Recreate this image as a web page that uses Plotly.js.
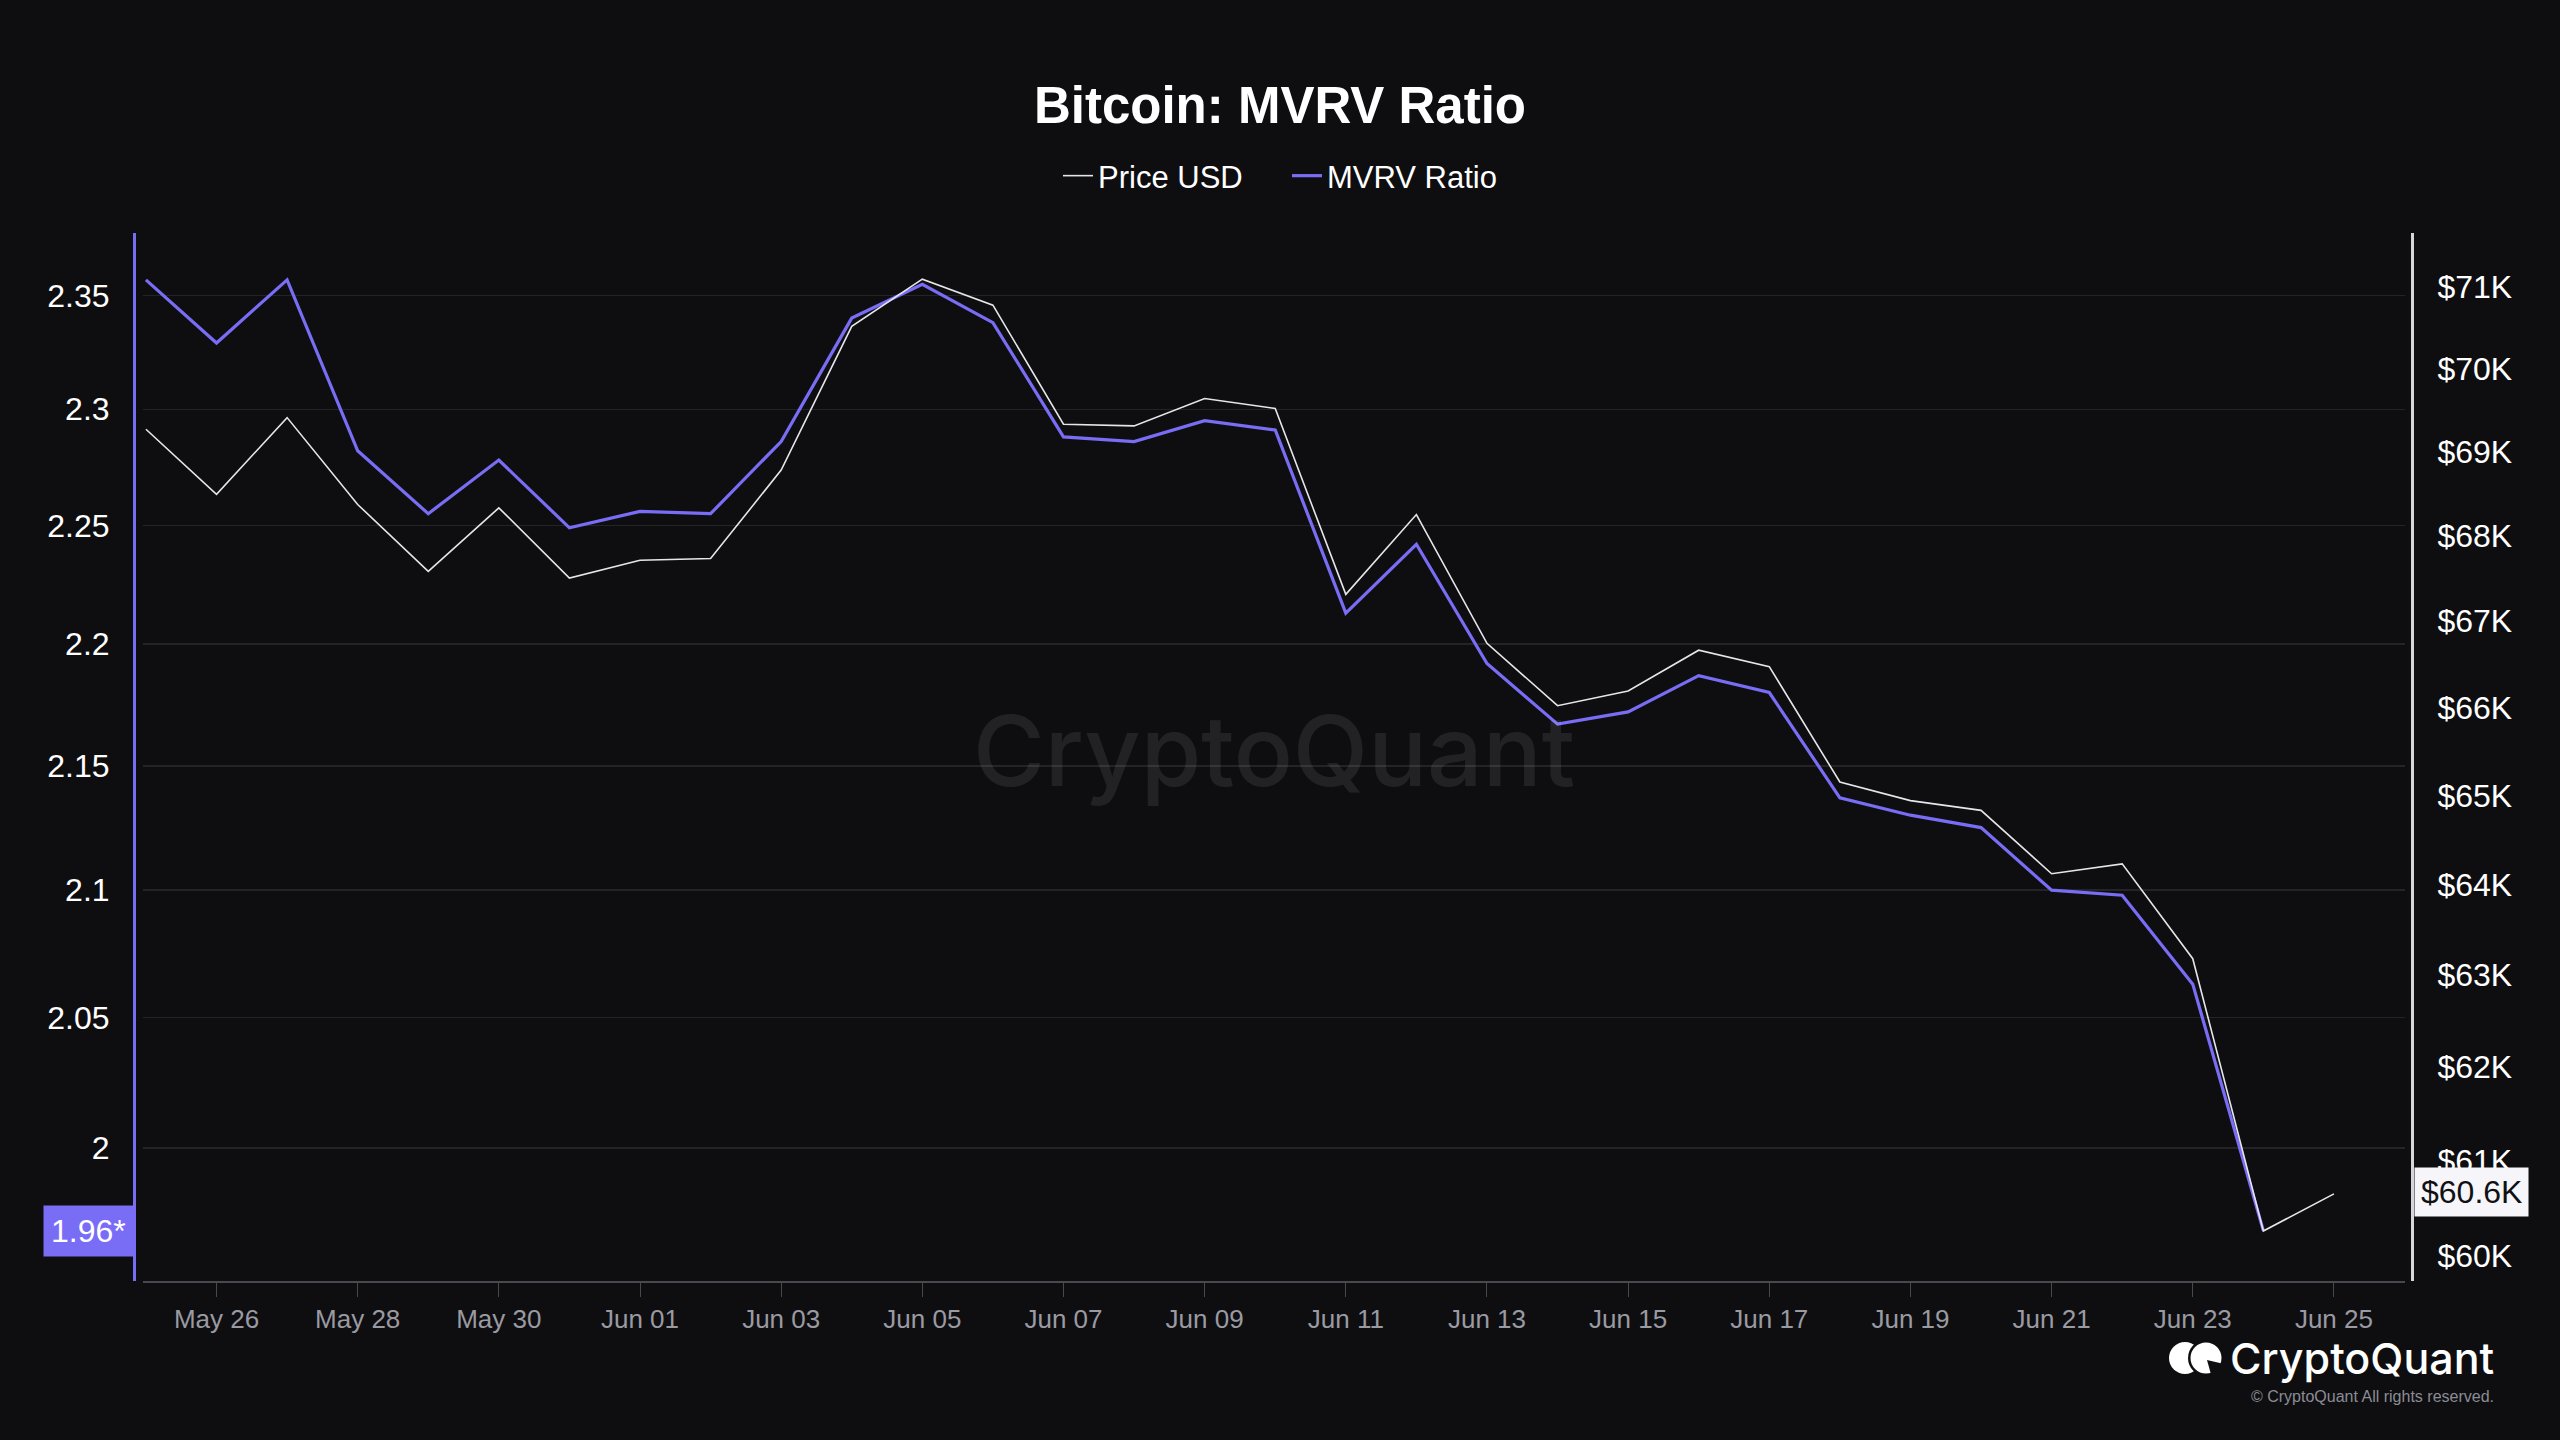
<!DOCTYPE html>
<html>
<head>
<meta charset="utf-8">
<script src="https://cdn.plot.ly/plotly-3.0.1.min.js"></script>
<style>
  html, body { margin: 0; padding: 0; background: #0e0e11; }
  #chart { width: 2560px; height: 1440px; }
</style>
</head>
<body>
<div id="chart"></div>
<script>
// ---------------- data ----------------
const dates = [
  '2024-05-25','2024-05-26','2024-05-27','2024-05-28','2024-05-29','2024-05-30','2024-05-31',
  '2024-06-01','2024-06-02','2024-06-03','2024-06-04','2024-06-05','2024-06-06','2024-06-07',
  '2024-06-08','2024-06-09','2024-06-10','2024-06-11','2024-06-12','2024-06-13','2024-06-14',
  '2024-06-15','2024-06-16','2024-06-17','2024-06-18','2024-06-19','2024-06-20','2024-06-21',
  '2024-06-22','2024-06-23','2024-06-24','2024-06-25'
];
const priceUSD = [
  69270, 68490, 69410, 68370, 67580, 68330, 67500,
  67710, 67730, 68780, 70520, 71100, 70780, 69330,
  69310, 69640, 69520, 67310, 68250, 66740, 66020,
  66190, 66660, 66470, 65150, 64940, 64830, 64120,
  64230, 63180, 60260, 60650
];
const mvrvDates = dates.slice(0, 31);
const mvrvRatio = [
  2.357, 2.329, 2.357, 2.282, 2.255, 2.278, 2.249,
  2.256, 2.255, 2.286, 2.340, 2.355, 2.338, 2.288,
  2.286, 2.295, 2.291, 2.213, 2.242, 2.192, 2.167,
  2.172, 2.187, 2.180, 2.137, 2.130, 2.125, 2.100,
  2.098, 2.063, 1.969
];
const leftTickVals = [2, 2.05, 2.1, 2.15, 2.2, 2.25, 2.3, 2.35];
const leftTickText = ['2', '2.05', '2.1', '2.15', '2.2', '2.25', '2.3', '2.35'];
const rightTickVals = [60000, 61000, 62000, 63000, 64000, 65000, 66000, 67000, 68000, 69000, 70000, 71000];
const rightTickText = ['$60K', '$61K', '$62K', '$63K', '$64K', '$65K', '$66K', '$67K', '$68K', '$69K', '$70K', '$71K'];
const mvrvLastLabel = '1.96*';
const priceLastLabel = '$60.6K';

// ---------------- geometry helpers ----------------
const W = 2560, H = 1440, ML = 134, MR = 148, MT = 233, MB = 159;
const PW = W - ML - MR, PH = H - MT - MB;
const px2x = px => (px - ML) / PW;
const py2y = py => (H - MB - py) / PH;

const BG = '#0e0e11';
const PURPLE = '#7a6df5';
const FONT = '"Liberation Sans", Arial, Helvetica, sans-serif';

function circle(cx, cy, r, color) {
  return {
    type: 'circle', xref: 'paper', yref: 'paper', layer: 'above',
    x0: px2x(cx - r), x1: px2x(cx + r), y0: py2y(cy + r), y1: py2y(cy - r),
    fillcolor: color, line: { width: 0 }
  };
}

const traces = [
  {
    x: dates, y: priceUSD, name: 'Price USD', type: 'scatter', mode: 'lines',
    yaxis: 'y2', line: { color: '#e6e6ea', width: 1.6 }, hoverinfo: 'skip'
  },
  {
    x: mvrvDates, y: mvrvRatio, name: 'MVRV Ratio', type: 'scatter', mode: 'lines',
    yaxis: 'y', line: { color: PURPLE, width: 3.2 }, hoverinfo: 'skip'
  }
];

const layout = {
  width: W, height: H,
  paper_bgcolor: BG, plot_bgcolor: BG,
  margin: { l: ML, r: MR, t: MT, b: MB },
  font: { family: FONT, color: '#ffffff' },
  title: {
    text: '<b>Bitcoin: MVRV Ratio</b>',
    font: { family: FONT, size: 51, color: '#ffffff' },
    x: 0.5, xanchor: 'center', xref: 'container',
    y: 1 - 105 / H, yanchor: 'middle', yref: 'container'
  },
  showlegend: true,
  legend: {
    orientation: 'h', x: px2x(1287), xanchor: 'center',
    y: py2y(176), yanchor: 'middle',
    font: { family: FONT, size: 31, color: '#ffffff' },
    bgcolor: 'rgba(0,0,0,0)', itemwidth: 30, traceorder: 'normal',
    entrywidth: 184, entrywidthmode: 'pixels'
  },
  xaxis: {
    type: 'date',
    domain: [px2x(143), px2x(2405)],
    range: ['2024-05-24 23:00', '2024-06-26 00:10'],
    tick0: '2024-05-26', dtick: 2 * 86400000, tickformat: '%b %d',
    showgrid: false, zeroline: false,
    showline: true, linecolor: '#48484f', linewidth: 2,
    ticks: 'outside', ticklen: 14, tickwidth: 1, tickcolor: '#48484f',
    tickfont: { family: FONT, size: 26, color: '#9a9aa2' },
    ticklabelstandoff: 0
  },
  yaxis: {
    type: 'log',
    range: [0.290111, 0.376207],
    anchor: 'free', position: 0, side: 'left',
    tickvals: leftTickVals, ticktext: leftTickText,
    tickfont: { family: FONT, size: 32, color: '#ffffff' },
    showgrid: true, gridcolor: '#232328', gridwidth: 1.5,
    zeroline: false, showline: true, linecolor: PURPLE, linewidth: 3,
    ticks: '', ticklabelstandoff: 17
  },
  yaxis2: {
    type: 'log',
    range: [4.776253, 4.855356],
    overlaying: 'y', anchor: 'free', position: 1, side: 'right',
    tickvals: rightTickVals, ticktext: rightTickText,
    tickfont: { family: FONT, size: 32, color: '#ffffff' },
    showgrid: false, zeroline: false,
    showline: true, linecolor: '#d6d6da', linewidth: 3,
    ticks: '', ticklabelstandoff: 17
  },
  annotations: [
    {
      text: 'CryptoQuant', xref: 'paper', yref: 'paper',
      x: px2x(1274), y: py2y(750), xanchor: 'center', yanchor: 'middle',
      showarrow: false,
      font: { family: 'Inter, "Noto Sans", sans-serif', size: 98, color: 'rgba(255,255,255,0.085)', weight: 500 }
    },
    {
      text: mvrvLastLabel, xref: 'paper', yref: 'y',
      x: 0, y: Math.log10(mvrvRatio[mvrvRatio.length - 1]),
      xanchor: 'right', yanchor: 'middle', showarrow: false,
      bgcolor: PURPLE, borderpad: 7,
      font: { family: FONT, size: 32, color: '#ffffff' }
    },
    {
      text: priceLastLabel, xref: 'paper', yref: 'y2',
      x: 1, y: Math.log10(priceUSD[priceUSD.length - 1]),
      xanchor: 'left', yanchor: 'middle', showarrow: false, xshift: 2, yshift: 2,
      bgcolor: '#f6f6fa', borderpad: 6,
      font: { family: FONT, size: 32, color: '#111114' }
    },
    {
      text: 'CryptoQuant', xref: 'paper', yref: 'paper',
      x: px2x(2496), y: py2y(1358), xanchor: 'right', yanchor: 'middle',
      showarrow: false,
      font: { family: 'Inter, "Noto Sans", sans-serif', size: 43, color: '#ffffff', weight: 500 }
    },
    {
      text: '© CryptoQuant All rights reserved.', xref: 'paper', yref: 'paper',
      x: px2x(2496), y: py2y(1396), xanchor: 'right', yanchor: 'middle',
      showarrow: false,
      font: { family: FONT, size: 16, color: '#8c8c94' }
    }
  ],
  shapes: [
    circle(2185, 1358, 16, '#ffffff'),
    circle(2206, 1358, 18, BG),
    circle(2206, 1358, 15.5, '#ffffff'),
    {
      type: 'path', xref: 'paper', yref: 'paper', layer: 'above',
      path: 'M ' + px2x(2207) + ' ' + py2y(1360) + ' L ' + px2x(2224) + ' ' + py2y(1364) +
            ' L ' + px2x(2224) + ' ' + py2y(1378) + ' L ' + px2x(2212) + ' ' + py2y(1378) + ' Z',
      fillcolor: BG, line: { width: 0 }
    }
  ]
};

Plotly.newPlot('chart', traces, layout, { staticPlot: true, displayModeBar: false });
</script>
</body>
</html>
